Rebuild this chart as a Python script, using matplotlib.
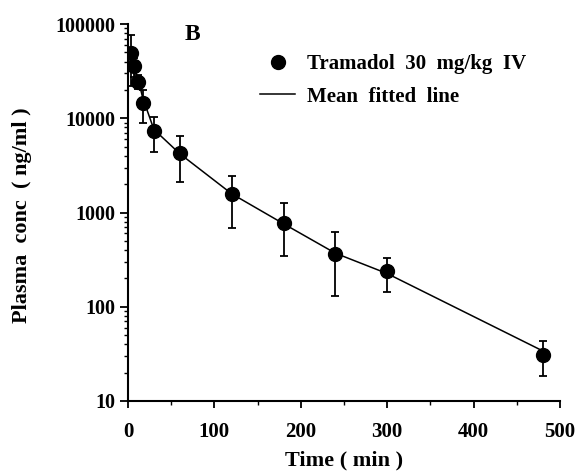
import matplotlib
matplotlib.use("Agg")
import matplotlib.pyplot as plt
from matplotlib.lines import Line2D
from matplotlib.ticker import FixedLocator, FixedFormatter, NullFormatter
import numpy as np

# ---- data ----
time_min = [3, 7, 12, 17, 30, 60, 120, 180, 240, 300, 480]
conc_mean = [49700, 35500, 24500, 14400, 7300, 4250, 1560, 770, 367, 239, 30.5]
err_lower = [27700, 8000, 4000, 5500, 2900, 2150, 870, 426, 238, 95, 12]
err_upper = [26600, 8000, 4000, 5600, 2900, 2250, 870, 480, 254, 91, 12.3]

fit_time = [3, 7, 12, 17, 30, 60, 120, 180, 240, 300, 480]
fit_conc = [50000, 36000, 25500, 16500, 7600, 4200, 1580, 760, 370, 225, 34]

ytick_vals = [10, 100, 1000, 10000, 100000]
ytick_labels = ["10", "100", "1000", "10000", "100000"]
xtick_vals = [0, 100, 200, 300, 400, 500]
xtick_labels = ["0", "100", "200", "300", "400", "500"]

series_label = "Tramadol  30  mg/kg  IV"
fit_label = "Mean  fitted  line"
panel_label = "B"
xlabel = "Time ( min )"
ylabel = "Plasma  conc  ( ng/ml )"

FONT = ["Liberation Serif", "DejaVu Serif"]
plt.rcParams["font.family"] = FONT
plt.rcParams["font.weight"] = "bold"

W, H = 578, 471
fig = plt.figure(figsize=(W / 100, H / 100), dpi=100)
ax = fig.add_axes([128 / W, 1 - 401 / H, (560 - 128) / W, (401 - 24) / H])

ax.plot(fit_time, fit_conc, color="black", lw=1.1, zorder=2)
ax.errorbar(time_min, conc_mean, yerr=[err_lower, err_upper], fmt="o",
            color="black", ms=10, capsize=3.2, elinewidth=1.3, capthick=1.3,
            zorder=3)

ax.set_yscale("log")
ax.set_ylim(10, 100000)
ax.set_xlim(0, 500)

for s in ["top", "right"]:
    ax.spines[s].set_visible(False)
for s in ["left", "bottom"]:
    ax.spines[s].set_linewidth(1.5)

ax.yaxis.set_major_locator(FixedLocator(ytick_vals))
ax.yaxis.set_major_formatter(FixedFormatter(ytick_labels))
minor_y = [m * 10 ** e for e in range(1, 5) for m in range(2, 10)]
ax.yaxis.set_minor_locator(FixedLocator(minor_y))
ax.yaxis.set_minor_formatter(NullFormatter())
ax.xaxis.set_major_locator(FixedLocator(xtick_vals))
ax.xaxis.set_major_formatter(FixedFormatter(xtick_labels))
ax.xaxis.set_minor_locator(FixedLocator([50, 150, 250, 350, 450]))

ax.tick_params(axis="y", which="major", direction="out", length=6, width=1.3,
               labelsize=14.5, pad=3)
ax.tick_params(axis="y", which="minor", direction="out", length=3, width=1.0)
ax.tick_params(axis="x", which="major", direction="out", length=5, width=1.3,
               labelsize=15, pad=10)
ax.tick_params(axis="x", which="minor", direction="out", length=3, width=1.0)
for lab in ax.get_xticklabels() + ax.get_yticklabels():
    lab.set_fontweight("bold")

fig.text(344 / W, 1 - 460 / H, xlabel, ha="center", va="center",
         fontsize=16, fontweight="bold")
fig.text(22 / W, 1 - 215 / H, ylabel, ha="center", va="center",
         rotation=90, fontsize=16, fontweight="bold")
fig.text(192 / W, 1 - 34 / H, panel_label, ha="center", va="center",
         fontsize=17, fontweight="bold")

handles = [Line2D([], [], ls="none", marker="o", ms=10, color="black"),
           Line2D([], [], color="black", lw=1.1)]
leg = ax.legend(handles, [series_label, fit_label], loc="upper left",
                bbox_to_anchor=(260 / W, 1 - 54 / H),
                bbox_transform=fig.transFigure, frameon=False,
                prop={"family": FONT, "weight": "bold", "size": 15},
                handlelength=1.7, handletextpad=0.55, labelspacing=0.6,
                borderpad=0, borderaxespad=0)

fig.savefig("out.png", dpi=100)
